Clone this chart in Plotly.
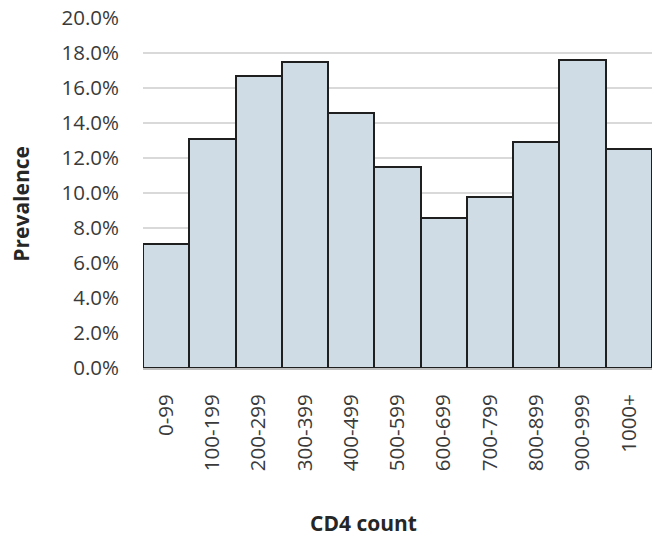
import plotly.graph_objects as go

categories = ["0-99", "100-199", "200-299", "300-399", "400-499", "500-599",
              "600-699", "700-799", "800-899", "900-999", "1000+"]
prevalence = [0.071, 0.131, 0.167, 0.175, 0.146, 0.115, 0.086, 0.098, 0.129, 0.176, 0.125]
y_ticks = [0.0, 0.02, 0.04, 0.06, 0.08, 0.10, 0.12, 0.14, 0.16, 0.18, 0.20]

FONT = "Open Sans"
TXT = "#3a3a3a"

fig = go.Figure(go.Bar(
    x=categories, y=prevalence,
    marker=dict(color="#CFDCE6", line=dict(color="#1f1f1f", width=2)),
))

fig.update_layout(
    width=655, height=538,
    margin=dict(l=143, r=3, t=16, b=170),
    plot_bgcolor="white", paper_bgcolor="white",
    bargap=0, showlegend=False,
    font=dict(family=FONT, size=20, color=TXT),
    xaxis=dict(tickangle=-90, showgrid=False, showline=True, linecolor="#BFBFBF",
               linewidth=2, ticks="", ticklabelstandoff=16,
               tickfont=dict(family=FONT, size=20.5, color=TXT)),
    yaxis=dict(range=[0, 0.2], tickvals=y_ticks, tickformat=".1%",
               showgrid=True, gridcolor="#D9D9D9", gridwidth=2,
               zeroline=False, showline=False, ticks="", ticklabelstandoff=23,
               tickfont=dict(family=FONT, size=20.5, color=TXT)),
    annotations=[
        dict(text="<b>CD4 count</b>", xref="paper", yref="paper",
             x=0.434, y=-0.443, xanchor="center", yanchor="middle",
             showarrow=False, font=dict(family=FONT, size=21, color="#262626")),
        dict(text="<b>Prevalence</b>", xref="paper", yref="paper",
             x=-0.24, y=0.469, xanchor="center", yanchor="middle", textangle=-90,
             showarrow=False, font=dict(family=FONT, size=21, color="#262626")),
    ],
)

fig.write_html("out.html")
